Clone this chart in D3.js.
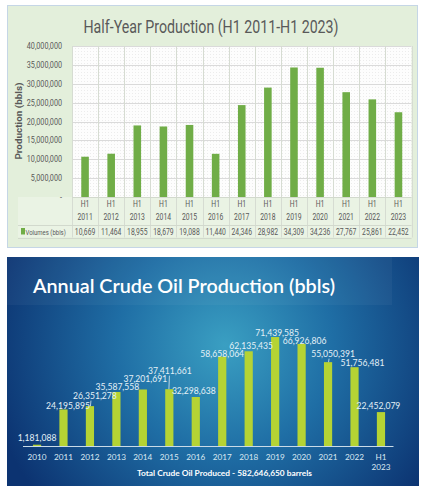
<!DOCTYPE html>
<html>
<head>
<meta charset="utf-8">
<script src="https://cdn.jsdelivr.net/npm/d3@7"></script>
<style>
  body { margin: 0; background: #fff; }
  svg { display: block; }
</style>
</head>
<body>
<svg id="chart" width="427" height="495"></svg>
<script>
// --- top chart: half-year production (table shows thousands of bbls) ---
const halfYearLabels = ['2011', '2012', '2013', '2014', '2015', '2016', '2017', '2018', '2019', '2020', '2021', '2022', '2023']
const halfYearVolumes = [10669, 11464, 18955, 18679, 19088, 11440, 24346, 28982, 34309, 34236, 27767, 25861, 22452]
const halfYearTicks = [0, 5000000, 10000000, 15000000, 20000000, 25000000, 30000000, 35000000, 40000000]

// --- bottom chart: annual crude oil production (bbls) ---
const annualLabels = ['2010', '2011', '2012', '2013', '2014', '2015', '2016', '2017', '2018', '2019', '2020', '2021', '2022', 'H1 2023']
const annualVolumes = [1181088, 24195895, 26351278, 35587558, 37201691, 37411661, 32298638, 58658064, 62135435, 71439585, 66926806, 55050391, 51756481, 22452079]
const annualTotal = '582,646,650'

// data label nudges (the labels in the picture were dragged by hand)
const labelDx = [0, 4.5, 5, 1, 2.5, 0.5, -2, 0, 2.5, 2, 3, 5, 8, -2.5]
const labelDy = [-2.5, 0.5, -6, -0.5, -6, -14, -2, 1, -1.5, 0, 1, -4, -0.5, -2]
const labelLeader = [false, false, true, false, false, true, false, false, false, false, false, true, false, false]

const svg = d3.select('#chart')
const defs = svg.append('defs')
const fmt = d3.format(',')
const topFont = "Roboto, 'Open Sans', sans-serif"
const botFont = "Lato, 'Open Sans', sans-serif"

// squeeze text horizontally (the original uses a narrow office font)
function condense(sel, k) {
  sel.each(function () {
    const w = this.getComputedTextLength()
    d3.select(this).attr('textLength', w * k).attr('lengthAdjust', 'spacingAndGlyphs')
  })
}

// ============ top chart ============
const upper = svg.append('g')

upper.append('rect')
  .attr('x', 7.5).attr('y', 5.5)
  .attr('width', 410).attr('height', 242)
  .attr('fill', '#e3efdb')
  .attr('stroke', '#c5d6e6')

// faint texture in the plot area
const pat = defs.append('pattern')
  .attr('id', 'hatch')
  .attr('width', 3).attr('height', 3)
  .attr('patternUnits', 'userSpaceOnUse')
pat.append('rect').attr('width', 3).attr('height', 3).attr('fill', '#fdfdfd')
pat.append('rect').attr('width', 1).attr('height', 1).attr('fill', '#ececec')

upper.append('text')
  .attr('x', 211).attr('y', 33)
  .attr('text-anchor', 'middle')
  .attr('font-family', topFont)
  .attr('font-size', 18)
  .attr('fill', '#595959')
  .attr('textLength', 255)
  .attr('lengthAdjust', 'spacingAndGlyphs')
  .text('Half-Year Production (H1 2011-H1 2023)')

const hx = d3.scaleBand().domain(halfYearLabels).range([72, 411.5])
const hy = d3.scaleLinear().domain([0, 40000000]).range([197, 46])

upper.append('rect')
  .attr('x', 72).attr('y', 46)
  .attr('width', 339.5).attr('height', 151)
  .attr('fill', 'url(#hatch)')

// table background under the axis
upper.append('rect')
  .attr('x', 18).attr('y', 197)
  .attr('width', 393.5).attr('height', 40.5)
  .attr('fill', '#eaf3e4')

// horizontal gridlines
upper.append('g')
  .selectAll('line')
  .data(halfYearTicks.slice(1))
  .join('line')
  .attr('x1', 72).attr('x2', 411.5)
  .attr('y1', d => Math.round(hy(d)) + 0.5)
  .attr('y2', d => Math.round(hy(d)) + 0.5)
  .attr('stroke', '#dadada')

// vertical column lines (through the table)
const colEdges = halfYearLabels.map(d => hx(d)).concat([hx.range()[1]])
upper.append('g')
  .selectAll('line')
  .data(colEdges)
  .join('line')
  .attr('x1', d => Math.round(d) + 0.5).attr('x2', d => Math.round(d) + 0.5)
  .attr('y1', 46).attr('y2', 237.5)
  .attr('stroke', '#d6dcd2')

// table rows
upper.append('g')
  .selectAll('line')
  .data([197, 225, 237.5])
  .join('line')
  .attr('x1', (d, i) => i === 0 ? 72 : 18).attr('x2', 411.5)
  .attr('y1', d => Math.round(d) + 0.5).attr('y2', d => Math.round(d) + 0.5)
  .attr('stroke', '#d2d9cd')

// y axis tick labels
upper.append('g')
  .selectAll('text')
  .data(halfYearTicks)
  .join('text')
  .attr('x', 62)
  .attr('y', d => hy(d) + 3)
  .attr('text-anchor', 'end')
  .attr('font-family', topFont)
  .attr('font-size', 9)
  .attr('fill', '#595959')
  .text(d => d === 0 ? '-' : fmt(d))
  .call(condense, 0.8)

upper.append('text')
  .attr('transform', 'translate(21.5,121) rotate(-90)')
  .attr('text-anchor', 'middle')
  .attr('font-family', topFont)
  .attr('font-weight', 'bold')
  .attr('font-size', 8.5)
  .attr('fill', '#595959')
  .attr('textLength', 77)
  .attr('lengthAdjust', 'spacingAndGlyphs')
  .text('Production (bbls)')

// bars
const hBarW = hx.bandwidth() * 0.29
upper.append('g')
  .selectAll('rect')
  .data(halfYearVolumes)
  .join('rect')
  .attr('x', (d, i) => hx(halfYearLabels[i]) + (hx.bandwidth() - hBarW) / 2)
  .attr('y', d => hy(d * 1000))
  .attr('width', hBarW)
  .attr('height', d => hy(0) - hy(d * 1000))
  .attr('fill', '#70ad47')

// category labels
const cat = upper.append('g')
  .selectAll('g')
  .data(halfYearLabels)
  .join('g')
  .attr('transform', d => `translate(${hx(d) + hx.bandwidth() / 2},0)`)
  .attr('font-family', topFont)
  .attr('font-size', 8.5)
  .attr('fill', '#595959')
  .attr('text-anchor', 'middle')
cat.append('text').attr('y', 207).text('H1').call(condense, 0.8)
cat.append('text').attr('y', 220).text(d => d).call(condense, 0.8)

// data table values
upper.append('g')
  .selectAll('g')
  .data(halfYearVolumes)
  .join('g')
  .attr('transform', (d, i) => `translate(${hx(halfYearLabels[i]) + hx.bandwidth() / 2},234.5) scale(0.8,1)`)
  .append('text')
  .attr('text-anchor', 'middle')
  .attr('font-family', topFont)
  .attr('font-size', 8.5)
  .attr('fill', '#595959')
  .text(d => fmt(d))

upper.append('rect')
  .attr('x', 21).attr('y', 228)
  .attr('width', 4).attr('height', 6.5)
  .attr('fill', '#70ad47')
upper.append('g')
  .attr('transform', 'translate(25.5,234.5) scale(0.75,1)')
  .append('text')
  .attr('font-family', topFont)
  .attr('font-size', 8)
  .attr('fill', '#595959')
  .text('Volumes (bbls)')

// ============ bottom chart ============
const lower = svg.append('g')

const grad = defs.append('radialGradient')
  .attr('id', 'bluebg')
  .attr('gradientUnits', 'userSpaceOnUse')
  .attr('cx', 225).attr('cy', 345)
  .attr('r', 240)
grad.append('stop').attr('offset', 0).attr('stop-color', '#3a9fc2')
grad.append('stop').attr('offset', 0.45).attr('stop-color', '#1f6ea5')
grad.append('stop').attr('offset', 1).attr('stop-color', '#0c3371')

lower.append('rect')
  .attr('x', 7).attr('y', 257)
  .attr('width', 412).attr('height', 229)
  .attr('fill', 'url(#bluebg)')

// faint title box
lower.append('rect')
  .attr('x', 7).attr('y', 257)
  .attr('width', 385).attr('height', 48)
  .attr('fill', '#ffffff')
  .attr('opacity', 0.04)

lower.append('text')
  .attr('x', 33).attr('y', 293)
  .attr('font-family', botFont)
  .attr('font-weight', 600)
  .attr('font-size', 20)
  .attr('fill', '#ffffff')
  .attr('textLength', 302)
  .attr('lengthAdjust', 'spacingAndGlyphs')
  .text('Annual Crude Oil Production (bbls)')

const ax = d3.scaleBand().domain(annualLabels).range([23.8, 394.2]).paddingInner(0.69).paddingOuter(0.345)
const ay = d3.scaleLinear().domain([0, 80000000]).range([446.5, 323.9])

lower.append('g')
  .selectAll('rect')
  .data(annualVolumes)
  .join('rect')
  .attr('x', (d, i) => ax(annualLabels[i]))
  .attr('y', d => ay(d))
  .attr('width', ax.bandwidth())
  .attr('height', d => ay(0) - ay(d))
  .attr('fill', '#b5d334')

lower.append('line')
  .attr('x1', 23).attr('x2', 393.5)
  .attr('y1', 446.5).attr('y2', 446.5)
  .attr('stroke', '#c9dbe8')
  .attr('stroke-width', 1)

// leader lines
lower.append('g')
  .selectAll('line')
  .data(annualVolumes.map((v, i) => ({ v, i })).filter(d => labelLeader[d.i]))
  .join('line')
  .attr('x1', d => ax(annualLabels[d.i]) + ax.bandwidth() / 2 + labelDx[d.i] * 0.2)
  .attr('x2', d => ax(annualLabels[d.i]) + ax.bandwidth() / 2 + labelDx[d.i] * 0.2 - 0.5)
  .attr('y1', d => ay(d.v) + labelDy[d.i] + 0.5)
  .attr('y2', d => ay(d.v))
  .attr('stroke', '#dcebf3')
  .attr('stroke-width', 0.8)

// data labels
lower.append('g')
  .selectAll('text')
  .data(annualVolumes)
  .join('text')
  .attr('x', (d, i) => ax(annualLabels[i]) + ax.bandwidth() / 2 + labelDx[i])
  .attr('y', (d, i) => ay(d) - 1 + labelDy[i])
  .attr('text-anchor', 'middle')
  .attr('font-family', botFont)
  .attr('font-size', 8.6)
  .attr('fill', '#e4f1f7')
  .text(d => fmt(d))

// category labels
const acat = lower.append('g')
  .selectAll('text')
  .data(annualLabels)
  .join('text')
  .attr('x', d => ax(d) + ax.bandwidth() / 2)
  .attr('y', 459.5)
  .attr('text-anchor', 'middle')
  .attr('font-family', botFont)
  .attr('font-size', 8.2)
  .attr('fill', '#dbe9f2')
acat.selectAll('tspan')
  .data(d => d.split(' '))
  .join('tspan')
  .attr('x', function () { return d3.select(this.parentNode).attr('x') })
  .attr('dy', (d, i) => i === 0 ? 0 : 10.5)
  .text(d => d)

lower.append('text')
  .attr('x', 224.5).attr('y', 476)
  .attr('text-anchor', 'middle')
  .attr('font-family', botFont)
  .attr('font-weight', 'bold')
  .attr('font-size', 8)
  .attr('fill', '#ffffff')
  .attr('textLength', 175)
  .attr('lengthAdjust', 'spacingAndGlyphs')
  .text(`Total  Crude Oil Produced -  ${annualTotal} barrels`)
</script>
</body>
</html>
